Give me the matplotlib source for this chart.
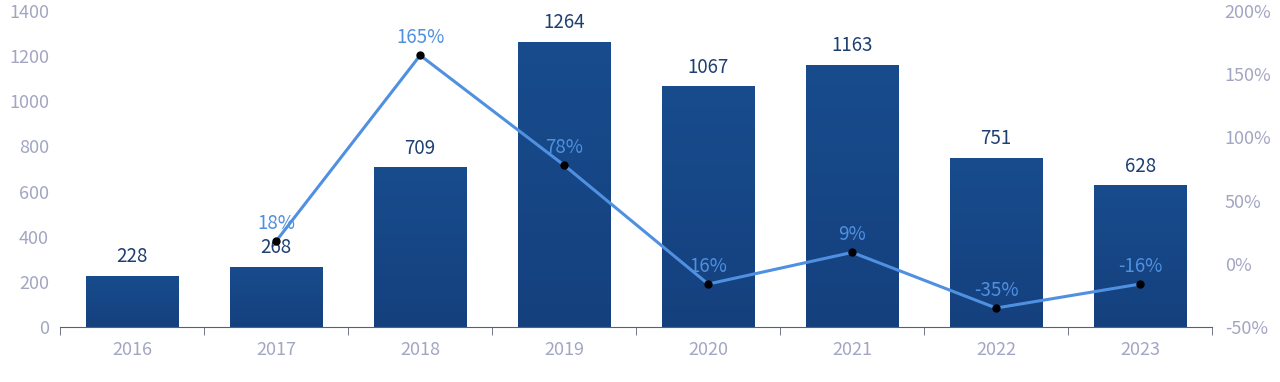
import matplotlib.pyplot as plt
import numpy as np
from matplotlib.ticker import FixedLocator
from matplotlib.colors import LinearSegmentedColormap

plt.rcParams['font.family'] = ['Noto Sans CJK SC', 'DejaVu Sans']
plt.rcParams['font.weight'] = 'light'

years = ['2016', '2017', '2018', '2019', '2020', '2021', '2022', '2023']
counts = [228, 268, 709, 1264, 1067, 1163, 751, 628]
growth = [np.nan, 18, 165, 78, -16, 9, -35, -16]
growth_labels = ['', '18%', '165%', '78%', '16%', '9%', '-35%', '-16%']

tick_col = '#a3a6c2'
bar_txt = '#1d3f72'
line_col = '#4f90e0'
fs = 13

fig = plt.figure(figsize=(12.8, 3.82), dpi=100)
ax = fig.add_axes([0.047, 0.144, 0.9, 0.827])
x = np.arange(len(years))
bars = ax.bar(x, counts, width=0.64, color='#174a8a', zorder=2)

# subtle vertical gradient on each bar
grad = np.linspace(0, 1, 256).reshape(-1, 1)
cmap = LinearSegmentedColormap.from_list('b', ['#15407e', '#184c8d'])
for b in bars:
    bx, by = b.get_x(), b.get_y()
    w, h = b.get_width(), b.get_height()
    im = ax.imshow(grad, extent=[bx, bx + w, by, by + h], origin='lower',
                   cmap=cmap, aspect='auto', zorder=2)
    im.set_clip_path(b)

for xi, c in zip(x, counts):
    ax.annotate(str(c), (xi, c), xytext=(0, 6), textcoords='offset points',
                ha='center', va='bottom', fontsize=fs + 0.5, color=bar_txt, zorder=5)

ax.set_xlim(-0.5, 7.5)
ax.set_ylim(0, 1400)
ax.set_yticks(range(0, 1401, 200))
ax.set_xticks(x)
ax.set_xticklabels(years)
ax.xaxis.set_minor_locator(FixedLocator(np.arange(-0.5, 7.6, 1)))
ax.tick_params(axis='x', which='major', length=0, pad=10, labelsize=fs, labelcolor=tick_col)
ax.tick_params(axis='x', which='minor', length=6, color='#5a6070', direction='out')
ax.tick_params(axis='y', length=0, pad=8, labelsize=fs, labelcolor=tick_col)
for s in ['top', 'left', 'right']:
    ax.spines[s].set_visible(False)
ax.spines['bottom'].set_color('#5a6070')

ax2 = ax.twinx()
ax2.plot(x, growth, color=line_col, lw=2.2, marker='o', ms=5,
         mfc='black', mec='black', zorder=4)
for xi, g, lab in zip(x, growth, growth_labels):
    if lab:
        ax2.annotate(lab, (xi, g), xytext=(0, 5), textcoords='offset points',
                     ha='center', va='bottom', fontsize=fs + 0.5, color=line_col, zorder=6)
ax2.set_ylim(-50, 200)
ax2.set_yticks(range(-50, 201, 50))
ax2.set_yticklabels([f'{v}%' for v in range(-50, 201, 50)])
ax2.tick_params(axis='y', length=0, pad=9, labelsize=fs, labelcolor=tick_col)
for s in ['top', 'left', 'right', 'bottom']:
    ax2.spines[s].set_visible(False)

fig.savefig('out.png', dpi=100)
